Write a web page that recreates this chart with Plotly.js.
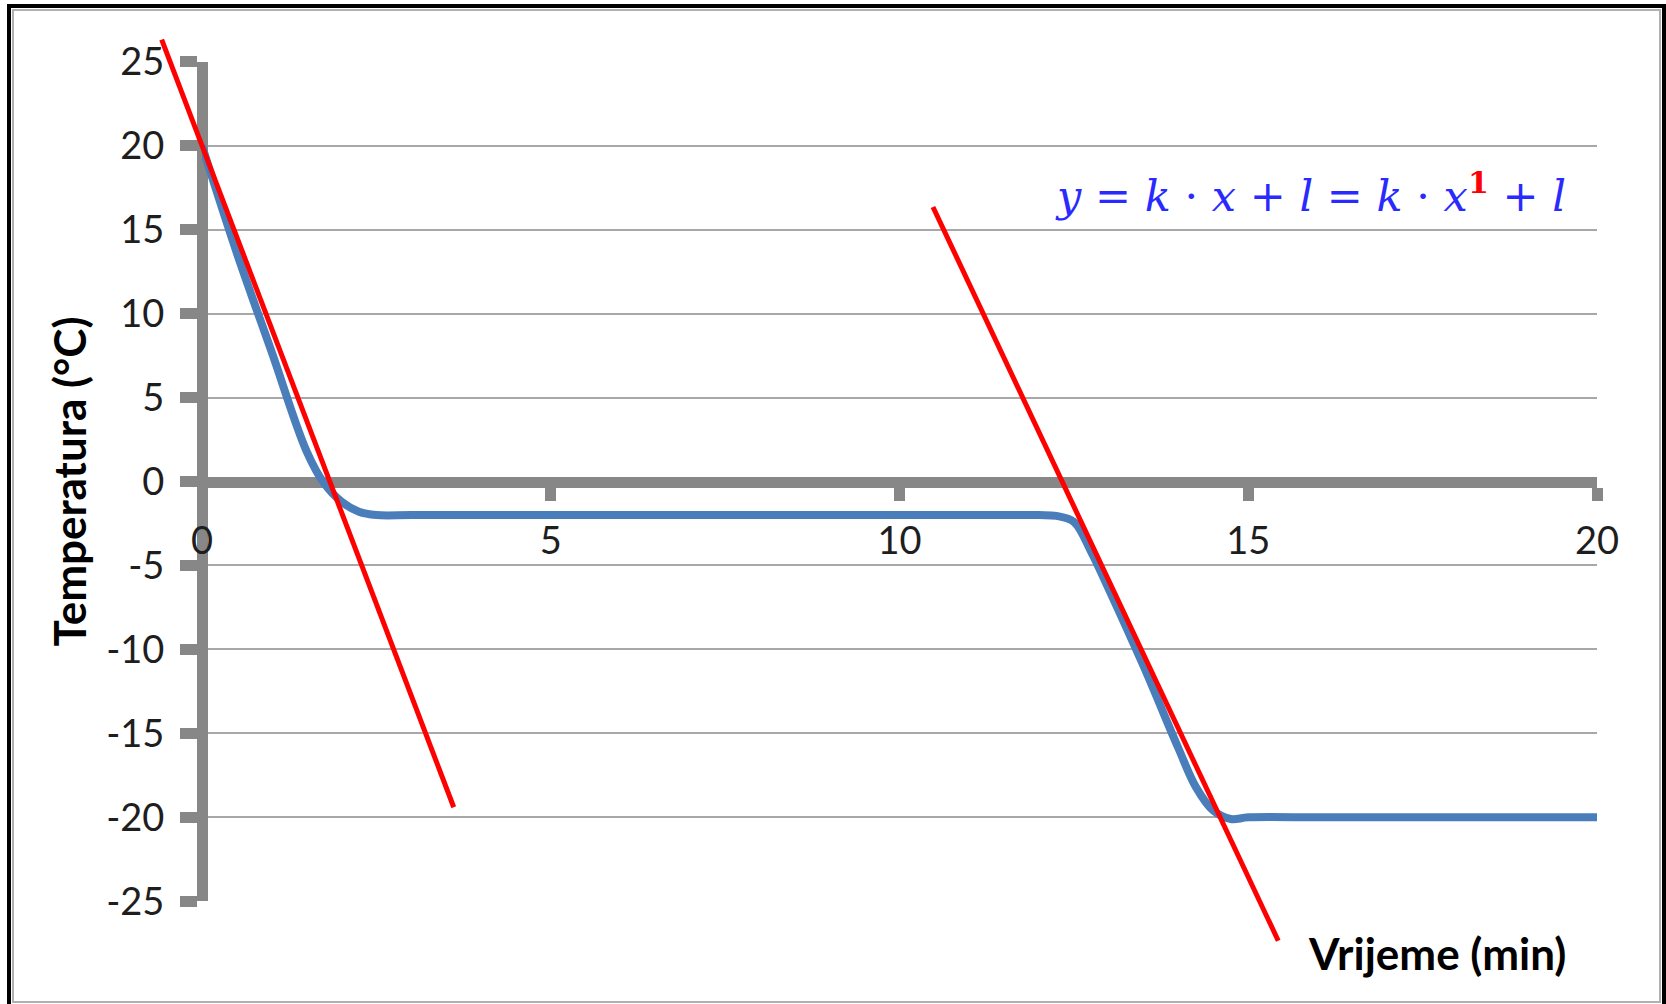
<!DOCTYPE html>
<html>
<head>
<meta charset="utf-8">
<script src="https://cdn.plot.ly/plotly-3.0.1.min.js"></script>
<style>html,body{margin:0;padding:0;background:#fff;}#chart{width:1666px;height:1004px;}</style>
</head>
<body>
<div id="chart"></div>
<script>
// ---- data ----
const timeMin = [0, 0.5, 1, 1.5, 1.75, 2, 2.25, 2.5, 3, 4, 5, 6, 7, 8, 9, 10, 11, 12, 12.25, 12.5, 12.75, 13, 13.5, 14, 14.25, 14.5, 14.75, 15, 16, 17, 18, 19, 20];
const tempC   = [20, 13.6, 7.7, 1.8, -0.1, -1.2, -1.8, -2, -2, -2, -2, -2, -2, -2, -2, -2, -2, -2, -2.05, -2.4, -4.2, -6.4, -11.0, -15.9, -18.2, -19.6, -20.1, -20, -20, -20, -20, -20, -20];
const tangent1X = [-0.578, 3.609];
const tangent1Y = [26.32, -19.40];
const tangent2X = [10.48, 15.43];
const tangent2Y = [16.35, -27.35];
const xTickVals = [0, 5, 10, 15, 20];
const xTickText = ['0', '5', '10', '15', '20'];
const yTickVals = [-25, -20, -15, -10, -5, 0, 5, 10, 15, 20, 25];
const yTickText = ['-25', '-20', '-15', '-10', '-5', '0', '5', '10', '15', '20', '25'];
const xTitle = 'Vrijeme (min)';
const yTitle = 'Temperatura (°C)';
const equation = '<i>y</i> = <i>k</i> · <i>x</i> + <i>l</i> = <i>k</i> · <i>x</i><sup><span style="color:#ff0000"><b>1</b></span></sup> + <i>l</i>';

// ---- layout geometry (pixels) ----
const W = 1666, H = 1004;
const px0 = 202, px1 = 1597;      // x = 0 .. 20
const pyTop = 61.7, pyBot = 901.3; // y = 25 .. -25
const xMin = 0, xMax = 20, yMin = -25, yMax = 25;
const axisLW = 11;
const xDom = [px0 / W, px1 / W];
const yDom = [(H - pyBot) / H, (H - pyTop) / H];
const xUnit = (px1 - px0) / (xMax - xMin);
const yUnit = (pyBot - pyTop) / (yMax - yMin);
const x2Range = [xMin - px0 / xUnit, xMax + (W - px1) / xUnit];
const y2Range = [yMin - (H - pyBot) / yUnit, yMax + pyTop / yUnit];
const yZeroFrac = yDom[0] + (0 - yMin) / (yMax - yMin) * (yDom[1] - yDom[0]);

const axisGray = '#878787';
const font = 'Lato, "Open Sans", sans-serif';

const traces = [
  {x: timeMin, y: tempC, type: 'scatter', mode: 'lines', xaxis: 'x', yaxis: 'y',
   line: {color: '#4a7ebb', width: 8, shape: 'spline', smoothing: 1}, hoverinfo: 'skip'},
  {x: tangent1X, y: tangent1Y, type: 'scatter', mode: 'lines', xaxis: 'x2', yaxis: 'y2',
   line: {color: '#ff0000', width: 5}, hoverinfo: 'skip'},
  {x: tangent2X, y: tangent2Y, type: 'scatter', mode: 'lines', xaxis: 'x2', yaxis: 'y2',
   line: {color: '#ff0000', width: 5}, hoverinfo: 'skip'}
];

const layout = {
  width: W, height: H,
  margin: {l: 0, r: 0, t: 0, b: 0, pad: 0},
  paper_bgcolor: '#ffffff', plot_bgcolor: 'rgba(0,0,0,0)',
  showlegend: false,
  xaxis: {
    domain: xDom, range: [xMin, xMax], anchor: 'free', position: yZeroFrac,
    tickmode: 'array', tickvals: xTickVals, ticktext: xTickText,
    ticks: 'outside', ticklen: 13, tickwidth: 11, tickcolor: axisGray,
    showline: true, linecolor: axisGray, linewidth: axisLW,
    showgrid: false, zeroline: false, layer: 'below traces',
    tickfont: {family: font, size: 38, color: '#1e1e1e'},
    ticklabelstandoff: 8, automargin: false, fixedrange: true
  },
  yaxis: {
    domain: yDom, range: [yMin, yMax], anchor: 'free', position: xDom[0],
    tickmode: 'array', tickvals: yTickVals, ticktext: yTickText,
    ticks: 'outside', ticklen: 17, tickwidth: 11, tickcolor: axisGray,
    showline: true, linecolor: axisGray, linewidth: axisLW,
    showgrid: true, gridcolor: '#a8a8a8', gridwidth: 2, zeroline: false, layer: 'below traces',
    tickfont: {family: font, size: 38, color: '#1e1e1e'},
    ticklabelstandoff: 8,
    title: {text: '<b>' + yTitle + '</b>', font: {family: font, size: 44, color: '#000000'}, standoff: 4},
    automargin: false, fixedrange: true
  },
  xaxis2: {domain: [0, 1], range: x2Range, anchor: 'y2', visible: false, fixedrange: true},
  yaxis2: {domain: [0, 1], range: y2Range, anchor: 'x2', visible: false, fixedrange: true},
  shapes: [
    {type: 'rect', xref: 'paper', yref: 'paper', x0: 9 / W, x1: 1664 / W, y0: -0.02, y1: (H - 6) / H,
     line: {color: '#000000', width: 4}, fillcolor: 'rgba(0,0,0,0)', layer: 'above'},
    {type: 'rect', xref: 'paper', yref: 'paper', x0: 13 / W, x1: 1660 / W, y0: 2 / H, y1: (H - 10) / H,
     line: {color: '#b0b0b0', width: 2}, fillcolor: 'rgba(0,0,0,0)', layer: 'above'}
  ],
  annotations: [
    {xref: 'paper', yref: 'paper', x: 1437 / W, y: (H - 953) / H, xanchor: 'center', yanchor: 'middle',
     text: '<b>' + xTitle + '</b>', showarrow: false, font: {family: font, size: 44, color: '#000000'}},
    {xref: 'paper', yref: 'paper', x: 1310 / W, y: (H - 193) / H, xanchor: 'center', yanchor: 'middle',
     text: equation, showarrow: false, font: {family: '"DejaVu Serif", serif', size: 43, color: '#2a2aff'}}
  ]
};

Plotly.newPlot('chart', traces, layout, {staticPlot: true, displayModeBar: false});
</script>
</body>
</html>
